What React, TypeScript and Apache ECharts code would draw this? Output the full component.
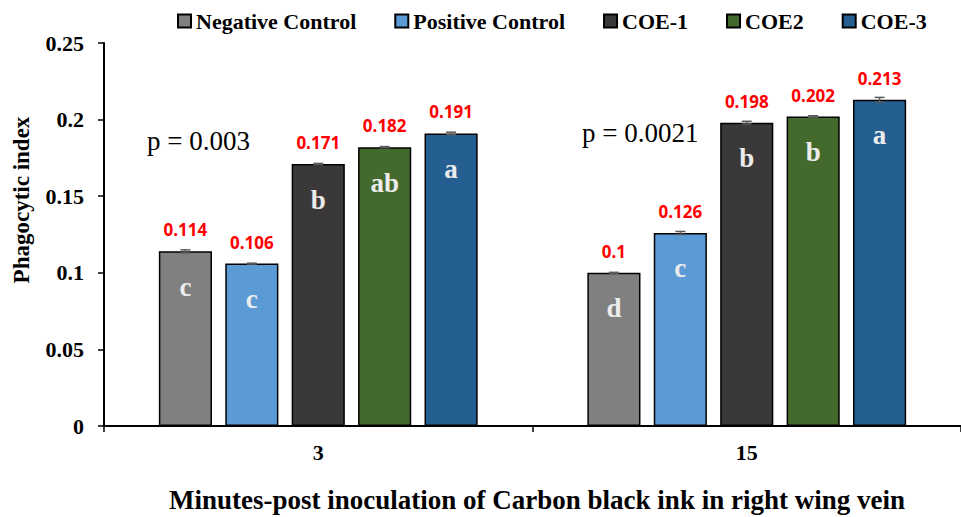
import React, { useEffect, useRef } from "react";
import * as echarts from "echarts";

const categories = ["3", "15"];
const seriesNames = ["Negative Control", "Positive Control", "COE-1", "COE2", "COE-3"];
const negativeControl = [0.114, 0.1];
const positiveControl = [0.106, 0.126];
const coe1 = [0.171, 0.198];
const coe2 = [0.182, 0.202];
const coe3 = [0.191, 0.213];
const errNegative = [0.001, 0.0003];
const errPositive = [0.0003, 0.001];
const errCoe1 = [0.0004, 0.0009];
const errCoe2 = [0.0004, 0.0005];
const errCoe3 = [0.0008, 0.0015];
const lettersNegative = ["c", "d"];
const lettersPositive = ["c", "c"];
const lettersCoe1 = ["b", "b"];
const lettersCoe2 = ["ab", "b"];
const lettersCoe3 = ["a", "a"];
const pValues = ["p = 0.003", "p = 0.0021"];
const yTicks = { min: 0, max: 0.25, interval: 0.05 };

const colors = ["#808080", "#5b9bd5", "#3a3838", "#44692c", "#255e91"];
const values = [negativeControl, positiveControl, coe1, coe2, coe3];
const errors = [errNegative, errPositive, errCoe1, errCoe2, errCoe3];
const letters = [lettersNegative, lettersPositive, lettersCoe1, lettersCoe2, lettersCoe3];

const BAR_W = 0.124;
const BAR_GAP = 0.25;
const SERIF = "'Liberation Serif', 'Times New Roman', serif";

export default function App() {
  const ref = useRef<HTMLDivElement>(null);
  useEffect(() => {
    if (!ref.current) return;
    const chart = echarts.init(ref.current, undefined, { renderer: "svg" });
    const barSeries = seriesNames.map((name, k) => ({
      name,
      type: "bar",
      barWidth: BAR_W * 100 + "%",
      barGap: BAR_GAP * 100 + "%",
      itemStyle: { color: colors[k], borderColor: "#000", borderWidth: 1.5 },
      label: {
        show: true,
        position: "insideTop",
        distance: 22,
        formatter: (p: any) => letters[k][p.dataIndex],
        color: "#ececec",
        fontFamily: SERIF,
        fontWeight: "bold",
        fontSize: 27,
      },
      data: values[k],
      z: 2,
    }));
    const errSeries = seriesNames.map((name, k) => ({
      name: "err-" + k,
      type: "custom",
      z: 5,
      encode: { x: 0, y: 1 },
      data: categories.map((c, i) => [i, values[k][i], errors[k][i]]),
      renderItem: (params: any, api: any) => {
        const ci = api.value(0);
        const val = api.value(1);
        const err = api.value(2);
        const center = api.coord([ci, 0])[0];
        const band = api.size([1, 0])[0];
        const w = band * BAR_W;
        const gap = w * BAR_GAP;
        const total = 5 * w + 4 * gap;
        const x = center - total / 2 + k * (w + gap) + w / 2;
        const yT = api.coord([ci, val + err])[1];
        const yB = api.coord([ci, val - err])[1];
        const yV = api.coord([ci, val])[1];
        const ls = { stroke: "#5a5a5a", lineWidth: 1.5 };
        return {
          type: "group",
          children: [
            { type: "line", shape: { x1: x, y1: yT, x2: x, y2: yB }, style: ls },
            { type: "line", shape: { x1: x - 5, y1: yT, x2: x + 5, y2: yT }, style: ls },
            { type: "line", shape: { x1: x - 5, y1: yB, x2: x + 5, y2: yB }, style: ls },
            {
              type: "text",
              x,
              y: yV - 13,
              style: {
                text: String(val),
                fill: "#ff0000",
                font: "bold 17px 'Open Sans', sans-serif",
                align: "center",
                verticalAlign: "bottom",
              },
            },
          ],
        };
      },
    }));
    chart.setOption({
      animation: false,
      backgroundColor: "#fff",
      grid: { left: 104, top: 43, right: 0, height: 383, containLabel: false },
      legend: {
        data: seriesNames,
        left: 172,
        top: 5,
        icon: "rect",
        itemWidth: 13,
        itemHeight: 13,
        itemGap: 38,
        textStyle: { fontFamily: SERIF, fontWeight: "bold", fontSize: 22, color: "#000" },
      },
      xAxis: {
        type: "category",
        data: categories,
        axisLine: { lineStyle: { color: "#000", width: 2 } },
        axisTick: { show: true, length: 6, lineStyle: { color: "#000", width: 1.5 } },
        axisLabel: { margin: 15, fontFamily: SERIF, fontWeight: "bold", fontSize: 22, color: "#000" },
      },
      yAxis: {
        type: "value",
        min: yTicks.min,
        max: yTicks.max,
        interval: yTicks.interval,
        splitLine: { show: false },
        axisLine: { show: true, lineStyle: { color: "#000", width: 2 } },
        axisTick: { show: true, length: 6, lineStyle: { color: "#000", width: 1.5 } },
        axisLabel: { margin: 20, fontFamily: SERIF, fontWeight: "bold", fontSize: 22, color: "#000" },
      },
      graphic: [
        {
          type: "text",
          x: 21,
          y: 200,
          rotation: Math.PI / 2,
          style: {
            text: "Phagocytic index",
            font: "bold 23px 'Liberation Serif', serif",
            fill: "#000",
            align: "center",
            verticalAlign: "middle",
          },
        },
        {
          type: "text",
          x: 537,
          y: 500,
          style: {
            text: "Minutes-post inoculation of Carbon black ink in right wing vein",
            font: "bold 27px 'Liberation Serif', serif",
            fill: "#000",
            align: "center",
            verticalAlign: "middle",
          },
        },
        {
          type: "text",
          x: 147,
          y: 141,
          style: { text: pValues[0], font: "27px 'Liberation Serif', serif", fill: "#000", verticalAlign: "middle" },
        },
        {
          type: "text",
          x: 582,
          y: 133,
          style: { text: pValues[1], font: "27px 'Liberation Serif', serif", fill: "#000", verticalAlign: "middle" },
        },
      ],
      series: [...barSeries, ...errSeries],
    });
    return () => chart.dispose();
  }, []);
  return <div ref={ref} style={{ position: "fixed", left: 0, top: 0, width: 961, height: 517 }} />;
}
